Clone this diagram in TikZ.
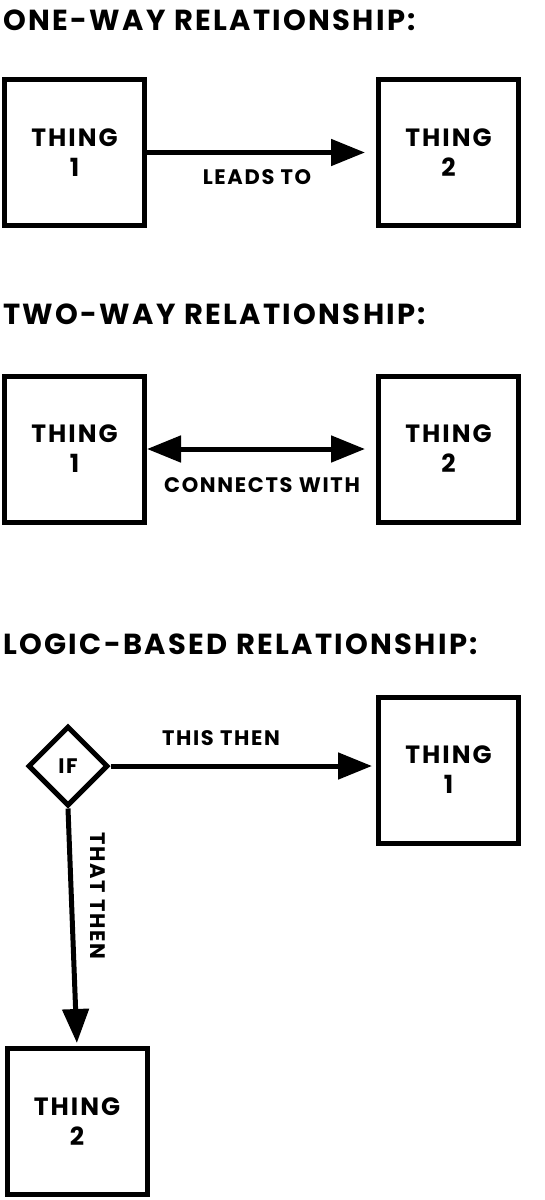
\documentclass[tikz,border=0pt]{standalone}
\usepackage{fontspec}
\setmainfont{Poppins}[LetterSpace = 8]
\usepackage{tikz}
\usetikzlibrary{arrows.meta}
\usetikzlibrary{shapes.geometric}

\begin{document}
\begin{tikzpicture}[x = 1pt, y = -1pt,
	> = {Triangle[length = 34pt, width = 26pt]},
	thing/.style = {draw, line width = 5pt, minimum width = 140pt, minimum height = 146pt, inner sep = 0pt, align = center, font = \fontsize{25}{30}\selectfont\bfseries},
	heading/.style = {anchor = west, inner sep = 0pt, font = \fontsize{29}{32}\selectfont\bfseries},
	verb/.style = {inner sep = 0pt, font = \fontsize{21}{24}\selectfont\bfseries},
	link/.style = {line width = 5pt}]
	\useasboundingbox (0,0) rectangle (545,1200);

	% one-way
	\node [heading] (oneway) at (3,20) {ONE-WAY RELATIONSHIP:};
	\node [thing] (onea) at (74.5,152.5) {THING\\1};
	\node [thing] (oneb) at (448.5,152.5) {THING\\2};
	\draw [link, ->, shorten > = 11pt] (onea) -- (oneb);
	\node [verb] (leads) at (257,177) {LEADS TO};

	% two-way
	\node [heading] (twoway) at (3,314) {TWO-WAY RELATIONSHIP:};
	\node [thing] (twoa) at (74.5,449) {THING\\1};
	\node [thing] (twob) at (448.5,449) {THING\\2};
	\draw [link, <->, shorten > = 11pt] (twoa) -- (twob);
	\node [verb] (connects) at (262,485) {CONNECTS WITH};

	% logic-based
	\node [heading] (logic) at (3,644) {LOGIC-BASED RELATIONSHIP:};
	\node [draw, diamond, line width = 5pt, minimum size = 80pt, inner sep = 0pt, font = \fontsize{21}{24}\selectfont\bfseries] (if) at (68,766) {IF};
	\node [thing] (logica) at (448.5,770) {THING\\1};
	\node [thing] (logicb) at (77,1121.5) {THING\\2};
	\draw [link, ->, shorten > = 4pt] (if.east) -- (logica.west |- if.east);
	\draw [link, ->, shorten > = 3pt] (if.south) -- (logicb.north);
	\node [verb] (this) at (221,738) {THIS THEN};
	\node [verb, rotate = -90] (that) at (98,896) {THAT THEN};
\end{tikzpicture}
\end{document}
